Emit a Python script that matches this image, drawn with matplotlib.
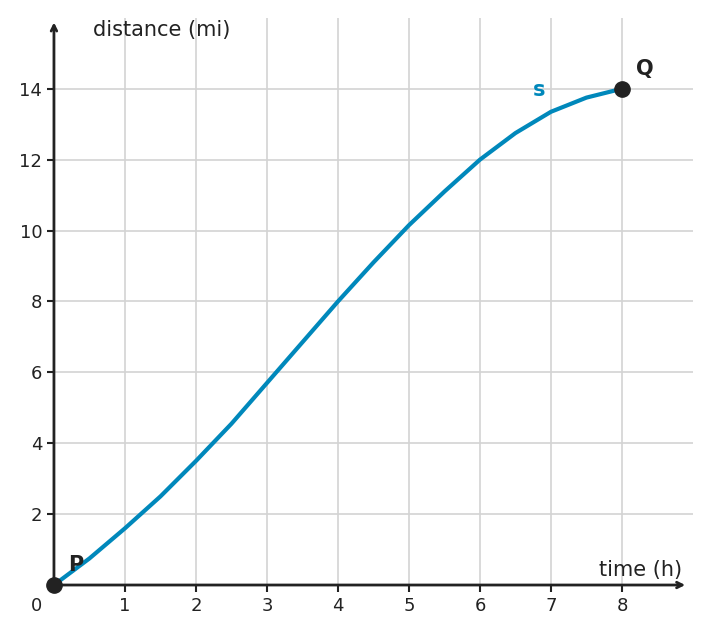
import matplotlib
matplotlib.use("Agg")
import matplotlib.pyplot as plt

t = [0, 0.5, 1, 1.5, 2, 2.5, 3, 3.5, 4, 4.5, 5, 5.5, 6, 6.5, 7, 7.5, 8]
s = [0, 0.75, 1.6, 2.5, 3.5, 4.55, 5.7, 6.85, 8, 9.1, 10.15, 11.1, 12, 12.75, 13.35, 13.75, 14]
xticks = [1, 2, 3, 4, 5, 6, 7, 8]
yticks = [2, 4, 6, 8, 10, 12, 14]

fig = plt.figure(figsize=(7.1, 6.33), dpi=100)
ax = fig.add_axes([0.076, 0.0758, 0.9, 0.896])
ax.set_xlim(0, 9)
ax.set_ylim(0, 16)
for sp in ax.spines.values():
    sp.set_visible(False)
for x in xticks:
    ax.axvline(x, color="#d3d3d3", lw=1.2, zorder=0)
for y in yticks:
    ax.axhline(y, color="#d3d3d3", lw=1.2, zorder=0)
tc = "#222222"
ax.annotate("", xy=(8.93, 0), xytext=(0, 0), arrowprops=dict(arrowstyle="->", color=tc, lw=2), annotation_clip=False)
ax.annotate("", xy=(0, 15.95), xytext=(0, 0), arrowprops=dict(arrowstyle="->", color=tc, lw=2), annotation_clip=False)
ax.set_xticks(xticks)
ax.set_yticks(yticks)
ax.tick_params(colors=tc, labelsize=13, length=5, width=1.5)
ax.text(-0.25, -0.35, "0", fontsize=13, color=tc, ha="center", va="top")
ax.plot(t, s, color="#0088bb", lw=3, zorder=3)
ax.plot([0, 8], [0, 14], "o", color=tc, ms=11, zorder=4, clip_on=False)
ax.text(0.2, 0.4, "P", fontsize=15, fontweight="bold", color=tc)
ax.text(8.2, 14.4, "Q", fontsize=15, fontweight="bold", color=tc)
ax.text(6.75, 13.8, "s", fontsize=15, fontweight="bold", color="#0088bb")
ax.text(0.55, 15.5, "distance (mi)", fontsize=15, color=tc)
ax.text(8.85, 0.25, "time (h)", fontsize=15, color=tc, ha="right")
fig.savefig("out.png")
